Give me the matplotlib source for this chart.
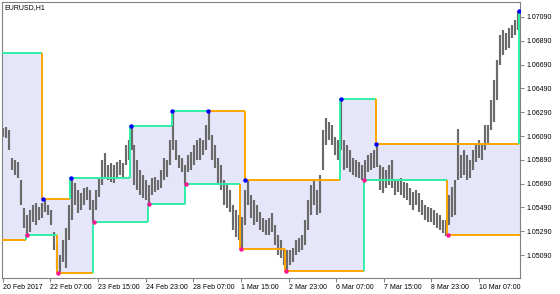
import numpy as np
import matplotlib
matplotlib.use("Agg")
import matplotlib.pyplot as plt

TITLE = "EURUSD,H1"
XTICK_BARS = [0, 32, 64, 96, 128, 160, 192, 224, 256, 288, 320]
XTICK_LABELS = ["20 Feb 2017", "22 Feb 07:00", "23 Feb 15:00", "24 Feb 23:00",
                "28 Feb 07:00", "1 Mar 15:00", "2 Mar 23:00", "6 Mar 07:00",
                "7 Mar 15:00", "8 Mar 23:00", "10 Mar 07:00"]
YTICKS = [1.05090, 1.05290, 1.05490, 1.05690, 1.05890, 1.06090,
          1.06290, 1.06490, 1.06690, 1.06890, 1.07090]
YTICK_LABELS = ["1.05090", "1.05290", "1.05490", "1.05690", "1.05890", "1.06090",
                "1.06290", "1.06490", "1.06690", "1.06890", "1.07090"]

# bar highs / lows (one entry per ~2 hourly bars)
HIGHS = [1.06159, 1.06168, 1.06143, 1.05908, 1.05891, 1.05874, 1.05723, 1.05488, 1.05430, 1.05472,
         1.05514, 1.05530, 1.05497, 1.05530, 1.05564, 1.05514, 1.05472, 1.05287, 1.05178, 1.05094,
         1.05220, 1.05321, 1.05514, 1.05740, 1.05698, 1.05639, 1.05614, 1.05656, 1.05665, 1.05639,
         1.05556, 1.05639, 1.05740, 1.05891, 1.05950, 1.05849, 1.05866, 1.05849, 1.05874, 1.05891,
         1.05866, 1.06017, 1.06059, 1.06176, 1.06017, 1.05891, 1.05807, 1.05765, 1.05723, 1.05681,
         1.05740, 1.05748, 1.05723, 1.05807, 1.05908, 1.05891, 1.06059, 1.06302, 1.06059, 1.05933,
         1.05908, 1.05849, 1.05933, 1.05958, 1.06017, 1.06059, 1.06076, 1.06059, 1.06184, 1.06302,
         1.06101, 1.06017, 1.05908, 1.05849, 1.05723, 1.05681, 1.05639, 1.05514, 1.05472, 1.05430,
         1.05413, 1.05639, 1.05715, 1.05597, 1.05556, 1.05514, 1.05455, 1.05405, 1.05388, 1.05405,
         1.05447, 1.05346, 1.05262, 1.05220, 1.05136, 1.05136, 1.05136, 1.05153, 1.05220, 1.05237,
         1.05262, 1.05388, 1.05556, 1.05681, 1.05723, 1.05639, 1.05765, 1.06143, 1.06243, 1.06210,
         1.06184, 1.06084, 1.06059, 1.06402, 1.06059, 1.06017, 1.05975, 1.05908, 1.05891, 1.05874,
         1.05849, 1.05891, 1.05933, 1.05950, 1.05975, 1.06026, 1.05849, 1.05832, 1.05807, 1.05849,
         1.05891, 1.05723, 1.05723, 1.05740, 1.05706, 1.05698, 1.05656, 1.05623, 1.05639, 1.05614,
         1.05556, 1.05514, 1.05497, 1.05488, 1.05472, 1.05447, 1.05430, 1.05388, 1.05388, 1.05597,
         1.05665, 1.05723, 1.06151, 1.05933, 1.05975, 1.05933, 1.05891, 1.05975, 1.06017, 1.06059,
         1.06017, 1.06184, 1.06184, 1.06394, 1.06562, 1.06729, 1.06939, 1.06981, 1.06956, 1.06997,
         1.07022, 1.07064, 1.07140]
LOWS = [1.06084, 1.06076, 1.05975, 1.05807, 1.05765, 1.05740, 1.05514, 1.05321, 1.05262, 1.05287,
        1.05371, 1.05346, 1.05388, 1.05405, 1.05455, 1.05430, 1.05346, 1.05136, 1.04986, 1.04944,
        1.05036, 1.04986, 1.05220, 1.05388, 1.05514, 1.05447, 1.05472, 1.05514, 1.05556, 1.05472,
        1.05371, 1.05472, 1.05581, 1.05681, 1.05740, 1.05723, 1.05706, 1.05698, 1.05740, 1.05765,
        1.05740, 1.05849, 1.05891, 1.05975, 1.05681, 1.05639, 1.05597, 1.05572, 1.05556, 1.05514,
        1.05597, 1.05623, 1.05639, 1.05656, 1.05723, 1.05748, 1.05849, 1.05975, 1.05891, 1.05824,
        1.05790, 1.05690, 1.05790, 1.05807, 1.05849, 1.05891, 1.05891, 1.05933, 1.05975, 1.06059,
        1.05891, 1.05824, 1.05681, 1.05639, 1.05514, 1.05488, 1.05455, 1.05304, 1.05245, 1.05220,
        1.05145, 1.05346, 1.05514, 1.05405, 1.05346, 1.05371, 1.05304, 1.05287, 1.05262, 1.05262,
        1.05287, 1.05178, 1.05094, 1.05069, 1.05011, 1.04952, 1.05011, 1.05036, 1.05094, 1.05119,
        1.05136, 1.05178, 1.05304, 1.05430, 1.05514, 1.05430, 1.05447, 1.05807, 1.06017, 1.06059,
        1.06017, 1.05933, 1.05891, 1.05975, 1.05807, 1.05824, 1.05790, 1.05765, 1.05748, 1.05740,
        1.05723, 1.05723, 1.05790, 1.05807, 1.05824, 1.05832, 1.05639, 1.05614, 1.05656, 1.05681,
        1.05656, 1.05597, 1.05623, 1.05597, 1.05572, 1.05556, 1.05514, 1.05472, 1.05514, 1.05455,
        1.05430, 1.05388, 1.05371, 1.05371, 1.05346, 1.05321, 1.05304, 1.05279, 1.05254, 1.05346,
        1.05413, 1.05430, 1.05723, 1.05740, 1.05765, 1.05723, 1.05740, 1.05807, 1.05874, 1.05908,
        1.05891, 1.05975, 1.06034, 1.06143, 1.06210, 1.06394, 1.06687, 1.06771, 1.06813, 1.06830,
        1.06914, 1.06939, 1.06981]

# swing channel: bar index where each level starts, and the level
UPPER_START = [0, 27, 46, 86, 114, 138, 163, 227, 251, 347]
UPPER_LEVEL = [1.06790, 1.05564, 1.05740, 1.06176, 1.06304, 1.06299, 1.05719, 1.06400, 1.06026, 1.07136]
LOWER_START = [0, 16, 37, 61, 98, 123, 160, 190, 243, 299]
LOWER_LEVEL = [1.05220, 1.05262, 1.04944, 1.05371, 1.05520, 1.05688, 1.05145, 1.04957, 1.05723, 1.05256]

GREEN = "#2EEFA6"
ORANGE = "#FFA500"
FILL = "#E6E6FA"
BAR_COLOR = "#6a6a6a"
FRAME = "#808080"
FONT = "Liberation Sans"

W, H = 560, 294
fig = plt.figure(figsize=(W / 100, H / 100), dpi=100)
ax = fig.add_axes([2 / W, 16 / H, 518 / W, 276 / H])
XMIN, XMAX = -0.5, 347.5
ax.set_xlim(XMIN, XMAX)
ax.set_ylim(1.04898, 1.07215)

def step_eval(starts, levels, xs):
    idx = np.searchsorted(np.asarray(starts, float) - 0.5, xs, side="right") - 1
    idx = np.clip(idx, 0, len(levels) - 1)
    return np.asarray(levels)[idx]

edges = np.unique(np.concatenate([[XMIN - 1],
                                  np.asarray(UPPER_START[1:], float) - 0.5,
                                  np.asarray(LOWER_START[1:], float) - 0.5,
                                  [XMAX + 1]]))
ax.fill_between(edges, step_eval(UPPER_START, UPPER_LEVEL, edges),
                step_eval(LOWER_START, LOWER_LEVEL, edges),
                step="post", color=FILL, lw=0, zorder=1)

# bars
pos = np.linspace(0, 346, len(HIGHS))
ax.vlines(pos, LOWS, HIGHS, color=BAR_COLOR, lw=1.55, zorder=2)

def draw_step(starts, levels, first_color, dot_color):
    n = len(starts)
    for i in range(n):
        x0 = starts[i] - 0.5 if i > 0 else XMIN - 1
        x1 = starts[i + 1] - 0.5 if i < n - 1 else XMAX + 1
        if i == 0:
            col = first_color
            xs, ys = [x0, x1], [levels[i], levels[i]]
        else:
            col = GREEN if levels[i] > levels[i - 1] else ORANGE
            xs, ys = [x0, x0, x1], [levels[i - 1], levels[i], levels[i]]
        ax.plot(xs, ys, color=col, lw=1.4, solid_capstyle="butt", zorder=3)
    ax.plot(starts[1:], levels[1:], "o", color=dot_color, ms=3.2, mew=0, zorder=4)

draw_step(UPPER_START, UPPER_LEVEL, GREEN, "#0000FF")
draw_step(LOWER_START, LOWER_LEVEL, ORANGE, "#FF1493")

for s in ax.spines.values():
    s.set_color(FRAME)
    s.set_linewidth(0.8)

ax.yaxis.tick_right()
ax.set_yticks(YTICKS)
ax.set_yticklabels(YTICK_LABELS, fontsize=5, family=FONT, color="black")
ax.tick_params(axis="y", length=3, width=0.7, color=FRAME, pad=1.5)
ax.set_xticks(XTICK_BARS)
ax.set_xticklabels(XTICK_LABELS, fontsize=5, family=FONT, color="black", ha="left")
ax.tick_params(axis="x", length=3, width=0.7, color=FRAME, pad=1.5)

fig.text(4 / W, 1 - 7.5 / H, TITLE, fontsize=5, family=FONT, va="center", ha="left")

fig.savefig("out.png", dpi=100)
